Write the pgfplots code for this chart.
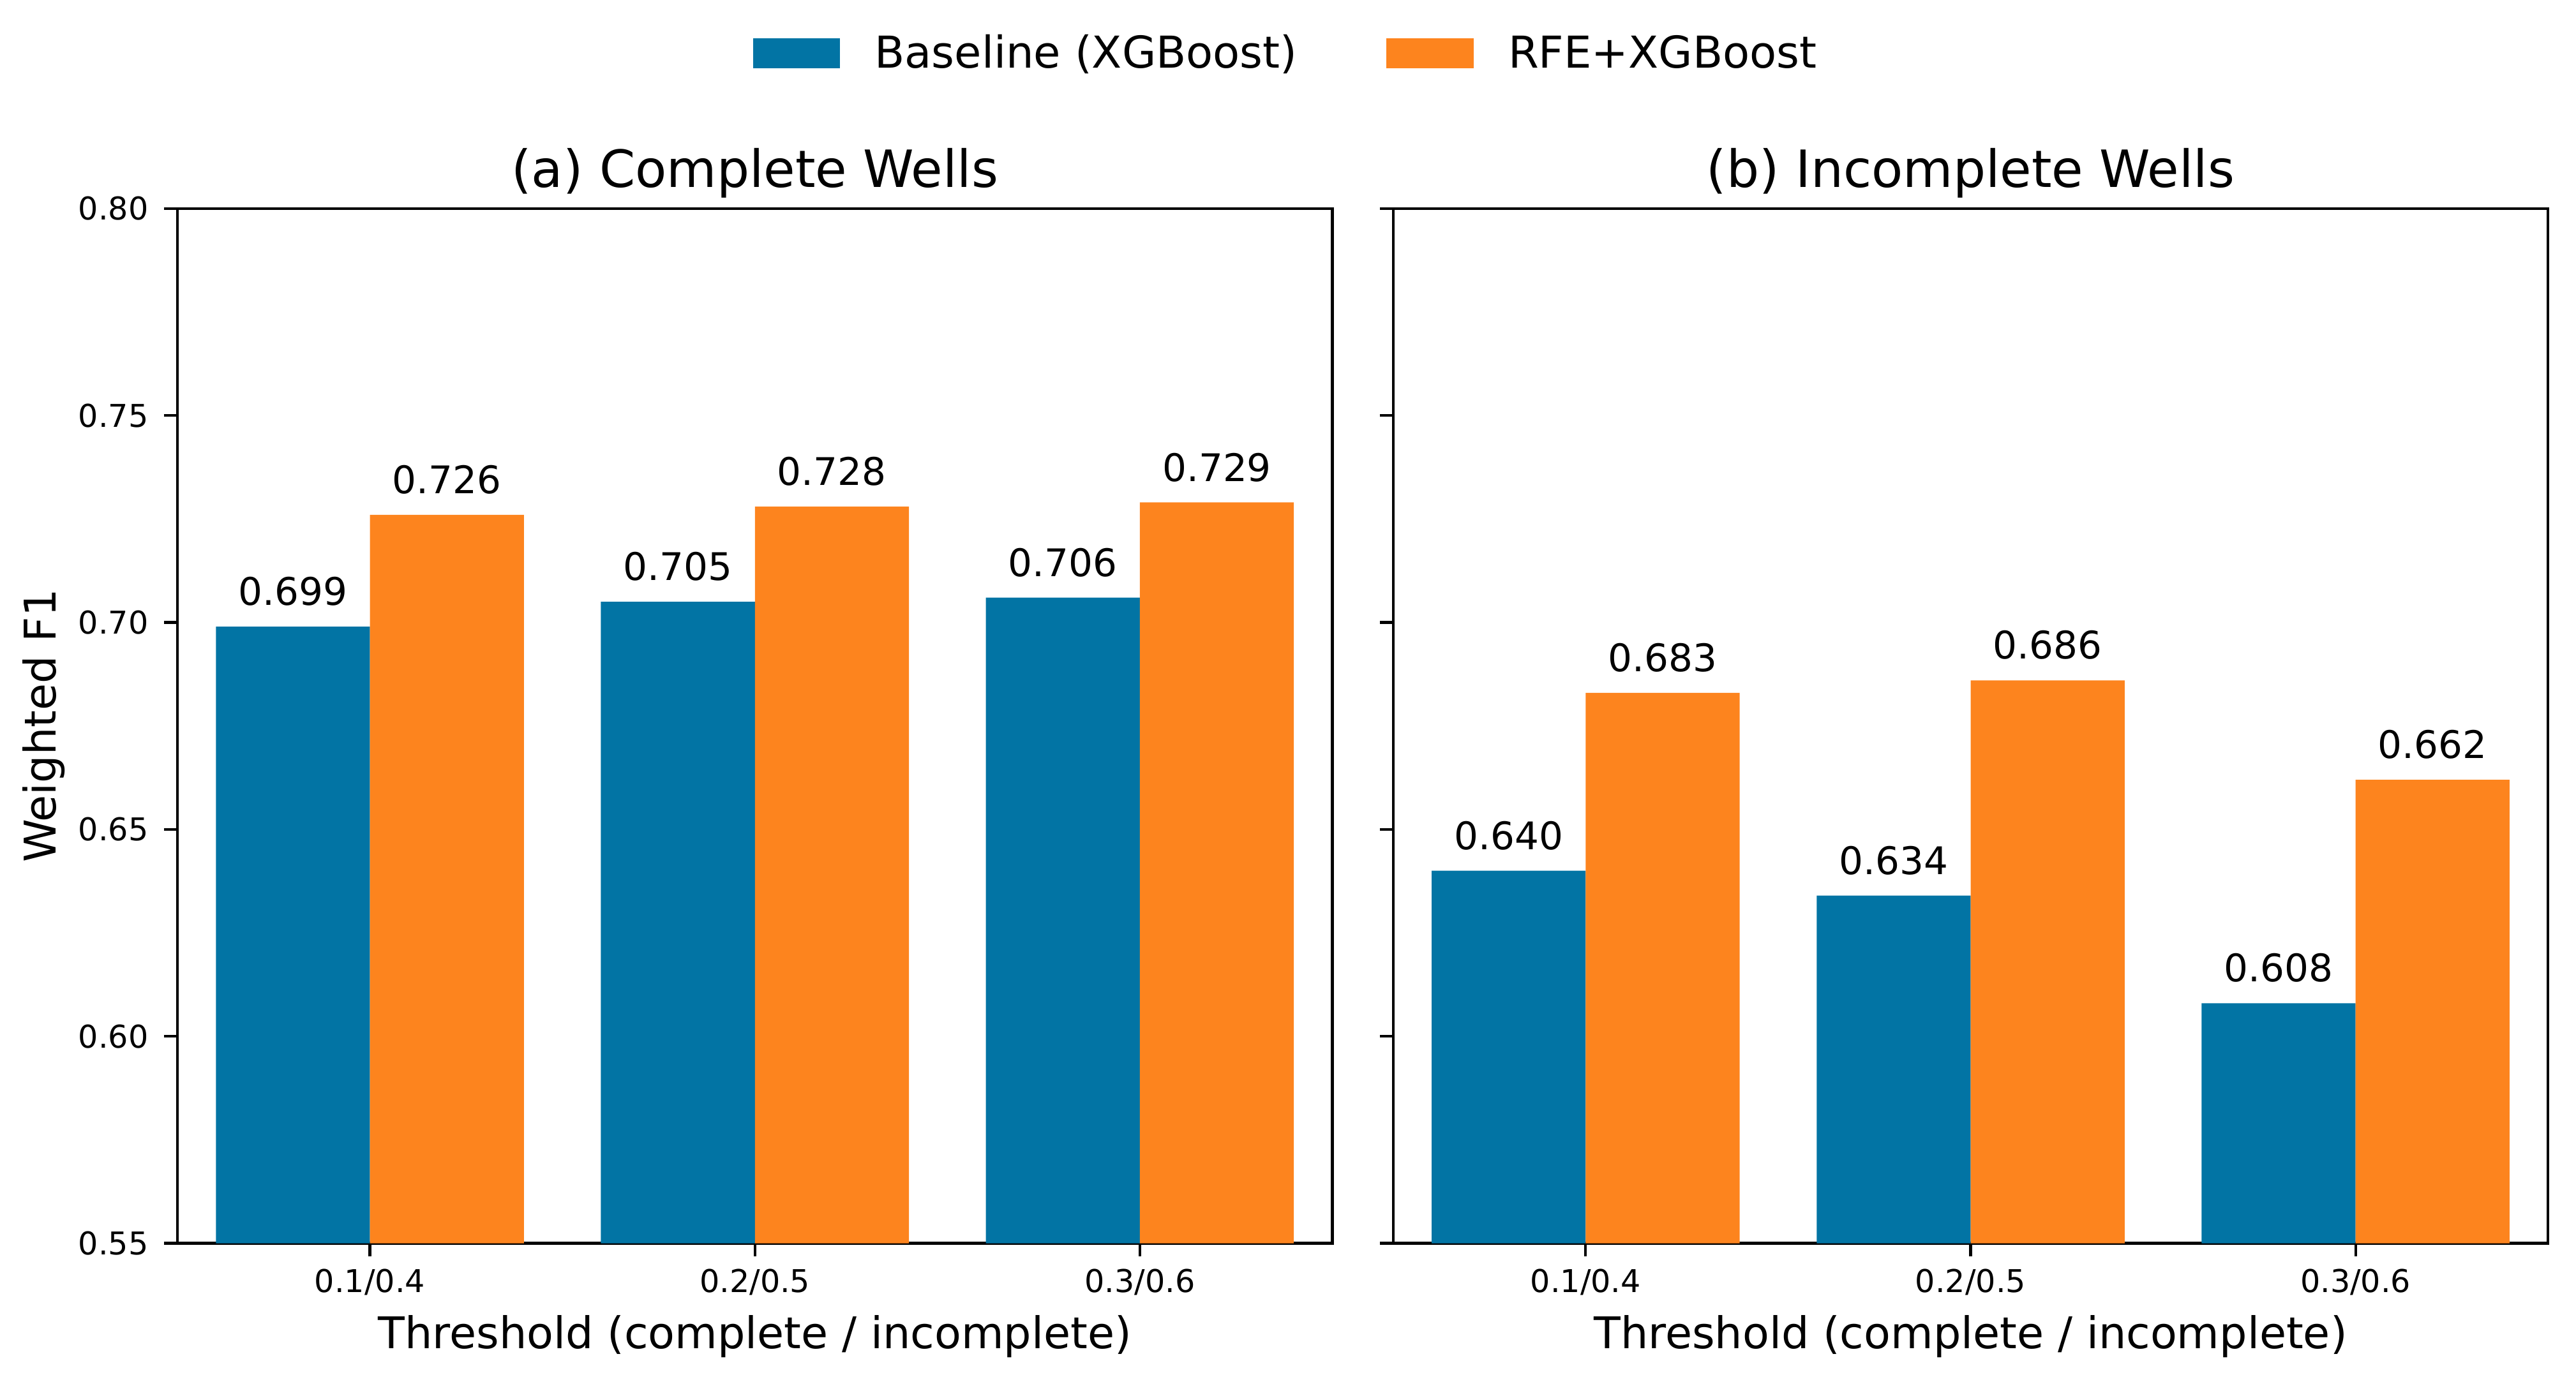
\documentclass[border=0pt]{standalone}
\usepackage{fontspec}
\setmainfont{DejaVu Sans}
\usepackage{pgfplots}
\pgfplotsset{compat=1.18}

\definecolor{cblue}{RGB}{2,116,164}
\definecolor{corange}{RGB}{253,132,30}

\pgfplotsset{
  /pgf/number format/assume math mode=true,
  wells/.style={
    scale only axis,
    width=433.75pt, height=388.71pt,
    anchor=south west,
    xmin=-0.5, xmax=2.5,
    ymin=0.55, ymax=0.80,
    ybar, bar width=0.4,
    xtick={0,1,2},
    xticklabels={0.1/0.4,0.2/0.5,0.3/0.6},
    ytick={0.55,0.6,0.65,0.7,0.75,0.8},
    tick align=outside,
    xtick pos=bottom, ytick pos=left,
    major tick length=5pt,
    axis line style={line width=1pt},
    every tick/.style={black, line width=1pt},
    ticklabel style={font=\fontsize{11.8pt}{14pt}\selectfont, inner sep=0pt},
    xticklabel style={anchor=base, yshift=-13.5pt},
    yticklabel style={anchor=east, xshift=-5.7pt},
    title style={at={(0.5,1)}, anchor=base, yshift=2pt, inner sep=0pt,
      font=\fontsize{19.3pt}{23pt}\selectfont},
    x label style={at={(0.5,-0.1016)}, anchor=base, inner sep=0pt,
      font=\fontsize{16.4pt}{19pt}\selectfont},
    xlabel={Threshold (complete / incomplete)},
    nodes near coords={\pgfmathprintnumber[fixed,fixed zerofill,precision=3]{\pgfplotspointmeta}},
    every node near coord/.append style={anchor=south, inner sep=0pt, yshift=7.6pt,
      text=black, font=\fontsize{14.3pt}{17pt}\selectfont},
    legend image code/.code={\fill[##1] (0pt,-5.6pt) rectangle (32.7pt,5.6pt);},
  },
}

\begin{document}
\begin{tikzpicture}
\path (0,0) rectangle (967.456pt,516.429pt);

\begin{axis}[
  wells,
  at={(66.636pt,49.36pt)},
  title={(a) Complete Wells},
  ylabel={Weighted F1},
  y label style={at={(-0.1055,0.5)}, anchor=base, inner sep=0pt,
    font=\fontsize{16.4pt}{19pt}\selectfont},
  yticklabel={\pgfmathprintnumber[fixed,fixed zerofill,precision=2]{\tick}},
  legend columns=2,
  legend style={at={(0.4979,1.150)}, anchor=west, draw=none, fill=none,
    inner sep=0pt, font=\fontsize{16.5pt}{19pt}\selectfont,
    nodes={inner sep=0pt}, cells={anchor=west},
    /tikz/every odd column/.append style={column sep=13pt},
    /tikz/every even column/.append style={column sep=33.5pt}},
]
\addplot[fill=cblue, draw=none, bar shift=-0.2] coordinates {(0,0.699) (1,0.705) (2,0.706)};
\addlegendentry{Baseline (XGBoost)}
\addplot[fill=corange, draw=none, bar shift=0.2] coordinates {(0,0.726) (1,0.728) (2,0.729)};
\addlegendentry{RFE+XGBoost}
\end{axis}

\begin{axis}[
  wells,
  at={(523.216pt,49.36pt)},
  title={(b) Incomplete Wells},
  yticklabels={},
]
\addplot[fill=cblue, draw=none, bar shift=-0.2] coordinates {(0,0.640) (1,0.634) (2,0.608)};
\addplot[fill=corange, draw=none, bar shift=0.2] coordinates {(0,0.683) (1,0.686) (2,0.662)};
\end{axis}
\end{tikzpicture}
\end{document}
